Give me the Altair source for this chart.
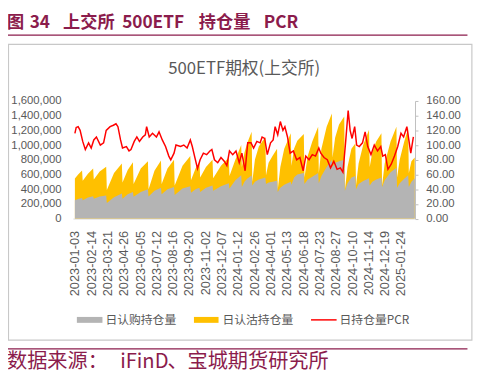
import altair as alt
import pandas as pd

# ---------------- data ----------------
date_labels = ["2023-01-03", "2023-02-14", "2023-03-21", "2023-04-26", "2023-06-05",
               "2023-07-12", "2023-08-16", "2023-09-20", "2023-11-02", "2023-12-07",
               "2024-01-12", "2024-02-26", "2024-04-01", "2024-05-13", "2024-06-18",
               "2024-07-23", "2024-08-27", "2024-10-10", "2024-11-14", "2024-12-19",
               "2025-01-24"]

# trading-day index of key points (troughs after / peaks before monthly expiry)
area_idx = [0, 5, 11, 12, 20, 28, 29, 38, 48, 49, 60, 72, 73, 81, 89, 90, 101, 112, 113,
            122, 132, 133, 142, 152, 153, 165, 177, 178, 185, 191, 192, 201, 211, 212, 224,
            236, 237, 246, 255,
            256, 260, 264, 271, 272, 276, 282, 292, 293, 297, 303, 310, 311, 315, 321, 331,
            332, 336, 341, 351, 352, 357, 364, 373, 374, 378, 386, 394, 395, 399, 405, 413,
            414, 418, 424, 430, 431, 435, 442, 451, 452, 456, 462, 470, 471, 475, 484, 493,
            494, 498, 505, 511, 512, 516, 521]
call_k = [250, 265, 280, 250, 285, 305, 270, 300, 315, 210, 290, 340, 270, 330, 360, 295, 360,
          400, 300, 380, 420, 330, 400, 430, 320, 410, 440, 350, 400, 420, 360, 420, 450, 380,
          440, 480, 410, 520, 590,
          430, 500, 540, 585, 450, 500, 530, 560, 470, 490, 500, 515, 360, 420, 460, 500,
          460, 560, 600, 620, 470, 530, 570, 620, 480, 580, 700, 800, 700, 760, 780, 800,
          380, 480, 560, 580, 400, 470, 510, 550, 450, 500, 530, 560, 430, 520, 630, 690,
          420, 480, 540, 590, 430, 500, 550]
total_k = [545, 600, 655, 515, 610, 680, 530, 640, 705, 390, 620, 750, 490, 660, 765, 470, 680,
           780, 400, 650, 790, 470, 680, 800, 450, 720, 850, 520, 680, 770, 560, 700, 800, 550,
           720, 830, 580, 800, 1000,
           700, 900, 1020, 1180, 500, 800, 980, 1110, 590, 760, 850, 950, 390, 700, 950, 1160,
           720, 950, 1060, 1150, 560, 850, 1050, 1250, 620, 950, 1250, 1430, 830, 1100, 1280,
           1390, 390, 700, 950, 1020, 450, 750, 1000, 1210, 700, 900, 1050, 1160, 450, 750,
           1050, 1250, 560, 800, 1050, 1230, 620, 780, 830]
put_k = [t - c for t, c in zip(total_k, call_k)]

pcr_idx = [0, 2, 5, 8, 12, 16, 21, 25, 29, 33, 39, 44, 48, 54, 59, 63, 66, 70, 73, 79, 83, 86,
           91, 95, 99, 104, 108, 110, 114, 119, 125, 129, 134, 139, 144, 147, 152, 155, 162,
           167, 172, 177, 180, 184, 188, 192, 197, 202, 207, 210, 214, 219, 224, 229, 233,
           237, 242, 247, 252, 256, 261, 265, 270, 274, 279, 284, 287, 291, 295, 300, 304,
           307, 311, 315, 319, 322, 326, 330, 335, 340, 345, 350, 354, 359, 364, 369, 374,
           377, 382, 387, 392, 397, 402, 407, 411, 415, 419, 422, 425, 429, 432, 436, 441,
           445, 449, 454, 459, 464, 469, 472, 476, 480, 485, 490, 495, 500, 504, 509, 512,
           515, 519]
pcr_vals = [116, 124, 125, 120, 105, 94, 103, 96, 107, 111, 100, 103, 120, 125, 127, 129, 125,
            107, 96, 98, 92, 94, 105, 111, 105, 111, 114, 125, 111, 116, 111, 118, 107, 98, 85,
            80, 89, 100, 98, 100, 96, 107, 98, 83, 68, 80, 89, 87, 92, 94, 80, 76, 83, 78, 72,
            92, 87, 92, 76, 89, 65, 103, 103, 96, 105, 103, 111, 109, 87, 103, 107, 125, 114,
            132, 120, 125, 111, 89, 92, 80, 83, 65, 85, 80, 87, 85, 96, 89, 83, 80, 69, 78, 67,
            69, 63, 103, 147, 120, 109, 125, 100, 98, 103, 118, 98, 87, 100, 92, 98, 85, 87,
            67, 74, 85, 98, 116, 111, 125, 107, 89, 111]

# header / footer text pieces
header_parts = ["图", "34", "上交所", "500ETF", "持仓量", "PCR"]
footer_parts = ["数据来源：", "iFinD", "、宝城期货研究所"]

area_df = pd.DataFrame({"idx": area_idx,
                        "call": [v * 1000 for v in call_k],
                        "put": [v * 1000 for v in put_k]})
pcr_df = pd.DataFrame({"idx": pcr_idx, "pcr": pcr_vals})

# ---------------- style ----------------
MAROON = "#8B1C4C"
GREY_TXT = "#595959"
CJK = "Noto Sans CJK SC"
NUMF = "Liberation Sans"

label_expr = "[" + ",".join("'%s'" % d for d in date_labels) + "][round(datum.value/25)]"
xs = alt.Scale(domain=[-3, 521.5], nice=False, zero=False)
x_axis = alt.Axis(values=[i * 25 for i in range(len(date_labels))], labelExpr=label_expr,
                  labelAngle=-90, labelFontSize=13, labelColor=GREY_TXT,
                  labelFont="Liberation Sans", labelOverlap=False, labelBound=False,
                  labelPadding=12, ticks=False, grid=False, domainColor="#d9d9d9",
                  title=None)
x_enc = alt.X("idx:Q", scale=xs, axis=x_axis)

left_scale = alt.Scale(domain=[0, 1600000], nice=False)
left_axis = alt.Axis(values=[i * 200000 for i in range(9)], format=",d", labelFontSize=11.5,
                     labelColor=GREY_TXT, labelFont=NUMF, labelPadding=12,
                     labelOverlap=False, labelBound=False,
                     ticks=False, domain=False, grid=False, title=None)
base_area = alt.Chart(area_df).transform_calculate(total="datum.call + datum.put")

yellow = base_area.mark_area(color="#FFC000", interpolate="linear").encode(
    x=x_enc,
    y=alt.Y("total:Q", scale=left_scale, axis=left_axis),
)
grey = base_area.mark_area(color="#B4B4B4", interpolate="linear").encode(
    x=x_enc, y=alt.Y("call:Q", scale=left_scale, axis=left_axis))

areas = alt.layer(yellow, grey)

line = alt.Chart(pcr_df).mark_line(color="#FF0000", strokeWidth=1.5).encode(
    x=x_enc,
    y=alt.Y("pcr:Q", scale=alt.Scale(domain=[0, 160], nice=False),
            axis=alt.Axis(orient="right", values=[i * 20 for i in range(9)], format=".2f",
                          labelFontSize=11.5, labelColor=GREY_TXT, labelFont=NUMF,
                          labelOverlap=False, labelBound=False,
                          labelPadding=8, tickSize=3, tickColor="#bfbfbf", domainColor="#bfbfbf",
                          grid=False, title=None)),
)

one = pd.DataFrame({"a": [0]})

def txt(s, x, y, size, color, align="left", weight="normal", font=CJK):
    return alt.Chart(pd.DataFrame({"t": [s]})).mark_text(
        align=align, baseline="middle", fontSize=size, color=color, fontWeight=weight, font=font
    ).encode(x=alt.value(x), y=alt.value(y), text="t:N")

def hline(x1, x2, y, color, w):
    return alt.Chart(one).mark_rule(color=color, strokeWidth=w).encode(
        x=alt.value(x1), x2=alt.value(x2), y=alt.value(y))

def box(x1, x2, y1, y2, fill=None, stroke=None, sw=1):
    kw = {}
    if fill is not None:
        kw["fill"] = fill
    else:
        kw["fillOpacity"] = 0
    if stroke is not None:
        kw["stroke"] = stroke
        kw["strokeWidth"] = sw
    return alt.Chart(one).mark_rect(**kw).encode(
        x=alt.value(x1), x2=alt.value(x2), y=alt.value(y1), y2=alt.value(y2))

# page x of each piece minus the plot's left edge (74)
header_x = [7, 30, 64, 124, 202, 268]
footer_x = [7, 122, 170]

decor = [box(-65.5, 405.5, -57.5, 243, stroke="#c8c8c8", sw=1.2)]
for s, px in zip(header_parts, header_x):
    decor.append(txt(s, px - 74, -79, 17.5, MAROON, weight="bold"))
decor += [
    hline(-66, 401, -67, MAROON, 1.2),
    txt("500ETF期权(上交所)", 174, -32.5, 17, GREY_TXT, align="center"),
    box(4, 30, 219.5, 225.5, fill="#B4B4B4"),
    txt("日认购持仓量", 33, 222.5, 12, GREY_TXT),
    box(123, 148, 219.5, 225.5, fill="#FFC000"),
    txt("日认沽持仓量", 152, 222.5, 12, GREY_TXT),
    hline(242, 268, 222.5, "#FF0000", 1.5),
    txt("日持仓量PCR", 271, 222.5, 12, GREY_TXT),
    hline(-66, 401, 252, MAROON, 1.2),
]
for s, px in zip(footer_parts, footer_x):
    decor.append(txt(s, px - 74, 265.5, 20.5, MAROON))

chart = alt.layer(areas, line, *decor).resolve_scale(y="independent").properties(
    width=347.7, height=119.5,
    padding={"left": 66, "top": 91.5, "right": 63, "bottom": 155},
    autosize=alt.AutoSizeParams(type="none"),
).configure_view(stroke=None).configure_axis(labelOverlap=False)

chart.save("out.html", embed_options={"renderer": "svg", "actions": False})
